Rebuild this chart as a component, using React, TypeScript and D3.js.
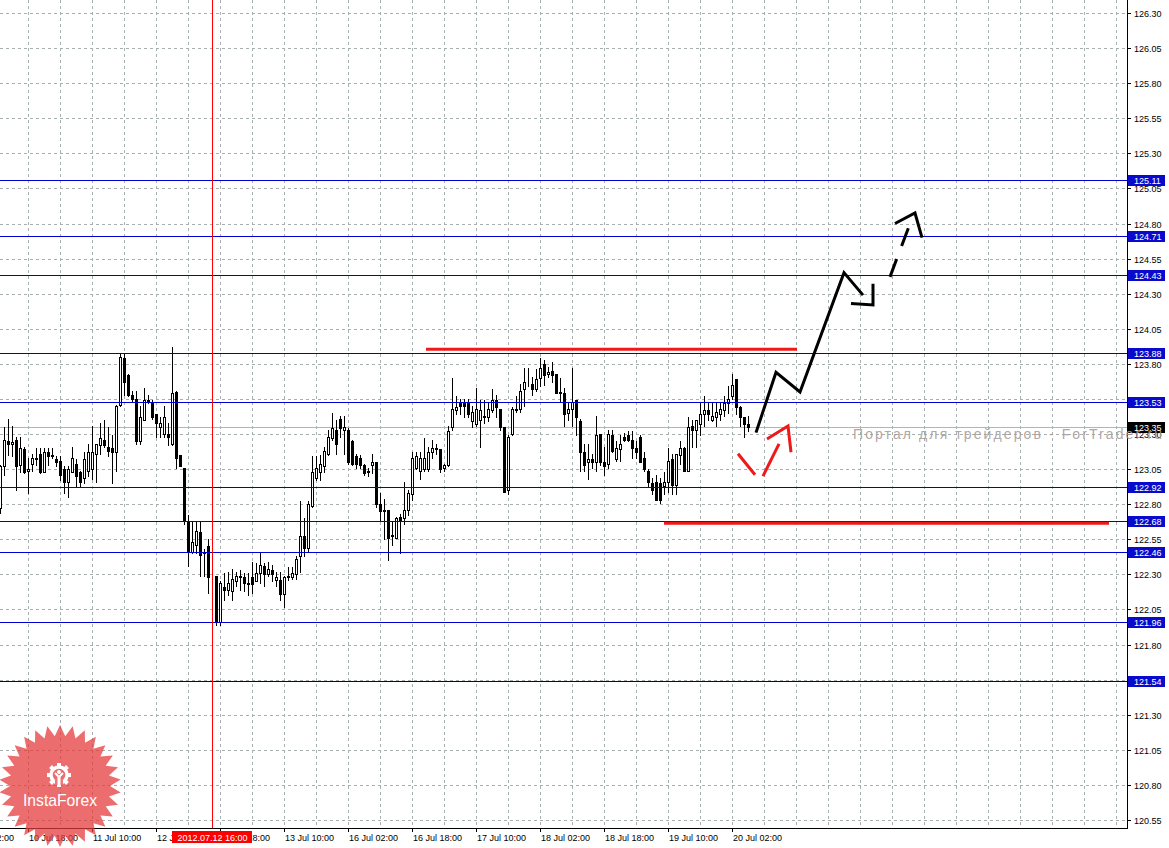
import React, { useLayoutEffect, useRef, useState } from 'react';
import * as d3 from 'd3';

// ---- candle data (H1 bars, bar 0 = 10 Jul 11:00) ----
const opens = [
  122.77,123.07,123.25,123.23,123.26,123.08,123.19,123.04,123.09,123.13,
  123.16,123.03,123.17,123.14,123.12,123.11,123.05,122.96,123.03,123.09,
  123.03,122.99,123.04,123.05,123.16,123.22,123.26,123.21,123.20,123.17,
  123.51,123.84,123.72,123.58,123.55,123.25,123.40,123.54,123.53,123.44,
  123.35,123.30,123.30,123.23,123.60,123.15,123.06,122.67,122.46,122.51,
  122.60,122.45,122.50,122.30,122.29,121.96,122.21,122.19,122.18,122.25,
  122.29,122.28,122.24,122.28,122.25,122.31,122.36,122.30,122.33,122.26,
  122.26,122.16,122.29,122.28,122.30,122.43,122.57,122.49,122.79,122.99,
  123.03,123.07,123.16,123.27,123.33,123.41,123.33,123.33,123.25,123.14,
  123.13,123.08,123.04,123.08,123.10,122.80,122.75,122.76,122.58,122.56,
  122.71,122.70,122.76,122.87,123.06,123.04,123.05,123.05,123.17,123.19,
  123.19,123.06,123.08,123.35,123.47,123.52,123.52,123.52,123.39,123.37,
  123.40,123.42,123.42,123.47,123.54,123.48,123.35,122.90,123.30,123.47,
  123.48,123.62,123.65,123.66,123.62,123.70,123.80,123.73,123.75,123.73,
  123.60,123.59,123.45,123.48,123.54,123.39,123.17,123.10,123.12,123.10,
  123.30,123.10,123.09,123.29,123.12,123.19,123.28,123.29,123.26,123.20,
  123.28,123.13,123.04,122.95,122.96,122.95,122.93,122.96,123.12,122.94,
  123.15,123.20,123.04,123.36,123.33,123.37,123.44,123.47,123.40,123.42,
  123.44,123.47,123.52,123.57,123.69,123.49,123.42,123.37,
];
const highs = [
  123.08,123.35,123.41,123.36,123.28,123.28,123.21,123.13,123.16,123.20,
  123.20,123.20,123.20,123.20,123.14,123.14,123.07,123.07,123.21,123.12,
  123.04,123.17,123.23,123.36,123.23,123.38,123.40,123.35,123.29,123.51,
  123.88,123.87,123.73,123.61,123.61,123.50,123.63,123.58,123.54,123.44,
  123.42,123.50,123.38,123.92,123.61,123.15,123.06,122.72,122.67,122.67,
  122.67,122.48,122.55,122.30,122.29,122.25,122.31,122.32,122.34,122.32,
  122.33,122.31,122.31,122.39,122.38,122.46,122.38,122.39,122.37,122.32,
  122.32,122.29,122.35,122.35,122.43,122.82,122.70,122.82,123.14,123.14,
  123.15,123.21,123.33,123.45,123.40,123.43,123.43,123.34,123.26,123.16,
  123.15,123.09,123.06,123.16,123.10,122.88,122.84,122.76,122.67,122.71,
  122.73,122.96,122.90,123.17,123.17,123.17,123.27,123.21,123.26,123.23,
  123.19,123.09,123.36,123.70,123.57,123.55,123.55,123.55,123.50,123.63,
  123.54,123.54,123.53,123.62,123.58,123.48,123.35,123.29,123.49,123.57,
  123.66,123.77,123.77,123.71,123.76,123.84,123.83,123.78,123.81,123.73,
  123.70,123.63,123.53,123.77,123.54,123.41,123.23,123.23,123.16,123.43,
  123.30,123.21,123.33,123.33,123.25,123.29,123.31,123.32,123.32,123.25,
  123.29,123.17,123.05,122.99,123.01,122.99,123.03,123.20,123.16,123.16,
  123.25,123.21,123.42,123.40,123.40,123.53,123.57,123.53,123.52,123.53,
  123.52,123.57,123.64,123.73,123.69,123.50,123.42,123.43,
];
const lows = [
  122.74,123.01,123.15,123.14,122.90,123.03,123.02,122.88,123.04,123.08,
  123.02,123.03,123.08,123.13,123.07,122.97,122.88,122.85,123.03,122.93,
  122.93,122.95,123.00,122.98,122.96,123.16,123.21,123.14,122.95,123.04,
  123.50,123.58,123.57,123.53,123.23,123.23,123.40,123.52,123.41,123.28,
  123.28,123.28,123.22,123.22,123.06,123.07,122.66,122.36,122.45,122.45,
  122.29,122.29,122.17,122.29,121.94,121.94,122.12,122.15,122.12,122.22,
  122.19,122.18,122.15,122.17,122.25,122.24,122.22,122.29,122.25,122.22,
  122.12,122.07,122.26,122.27,122.27,122.32,122.43,122.47,122.78,122.97,
  122.97,123.03,123.15,123.26,123.16,123.28,123.16,123.09,123.08,123.06,
  123.06,123.01,123.00,123.02,122.78,122.68,122.55,122.40,122.51,122.56,
  122.45,122.66,122.72,122.83,123.05,122.98,123.04,123.04,123.13,123.16,
  123.03,123.04,123.07,123.33,123.44,123.44,123.42,123.42,123.35,123.36,
  123.21,123.38,123.39,123.46,123.42,123.33,122.89,122.87,123.29,123.46,
  123.46,123.50,123.64,123.58,123.61,123.64,123.65,123.71,123.67,123.59,
  123.53,123.36,123.40,123.36,123.29,123.04,123.04,122.98,123.06,123.04,
  123.08,123.01,123.06,123.17,123.11,123.11,123.25,123.25,123.13,123.13,
  123.10,123.04,122.93,122.87,122.83,122.81,122.87,122.89,122.87,122.87,
  123.09,123.04,123.04,123.21,123.21,123.29,123.36,123.40,123.39,123.36,
  123.40,123.43,123.45,123.55,123.44,123.36,123.28,123.32,
];
const closes = [
  123.07,123.26,123.23,123.24,123.07,123.20,123.03,123.05,123.13,123.12,
  123.03,123.17,123.14,123.15,123.10,123.01,122.96,123.05,123.13,123.00,
  122.96,123.12,123.17,123.17,123.23,123.27,123.22,123.18,123.17,123.50,
  123.85,123.67,123.58,123.55,123.25,123.42,123.54,123.53,123.42,123.38,
  123.38,123.42,123.28,123.59,123.13,123.07,122.68,122.46,122.53,122.61,
  122.44,122.46,122.28,122.30,121.96,122.24,122.19,122.24,122.27,122.29,
  122.28,122.24,122.23,122.23,122.31,122.37,122.30,122.34,122.30,122.28,
  122.16,122.28,122.28,122.31,122.41,122.57,122.49,122.80,123.03,123.06,
  123.09,123.18,123.28,123.34,123.23,123.34,123.35,123.10,123.09,123.09,
  123.08,123.02,123.03,123.10,122.80,122.75,122.76,122.56,122.57,122.70,
  122.68,122.76,122.88,123.13,123.14,123.13,123.13,123.17,123.20,123.20,
  123.05,123.08,123.32,123.48,123.49,123.50,123.50,123.44,123.46,123.48,
  123.47,123.43,123.48,123.54,123.49,123.35,122.89,123.28,123.48,123.48,
  123.61,123.67,123.65,123.62,123.69,123.77,123.72,123.74,123.72,123.59,
  123.59,123.44,123.48,123.53,123.42,123.17,123.08,123.12,123.10,123.29,
  123.10,123.07,123.30,123.18,123.20,123.23,123.26,123.26,123.20,123.17,
  123.10,123.05,122.96,122.90,122.83,122.83,122.96,123.11,122.94,123.16,
  123.20,123.04,123.35,123.33,123.40,123.44,123.47,123.44,123.43,123.46,
  123.48,123.52,123.55,123.65,123.49,123.42,123.37,123.35,
];

// ---- axis ticks ----
const priceTicks = ['126.30','126.05','125.80','125.55','125.30','125.05','124.80','124.55','124.30','124.05','123.80','123.55','123.30','123.05','122.80','122.55','122.30','122.05','121.80','121.55','121.30','121.05','120.80','120.55'];
const timeTickBars = [-9, 7, 23, 39, 55, 71, 87, 103, 119, 135, 151, 167, 183];
const timeTickLabels = ['10 Jul 02:00','10 Jul 18:00','11 Jul 10:00','12 Jul 02:00','12 Jul 18:00','13 Jul 10:00','16 Jul 02:00','16 Jul 18:00','17 Jul 10:00','18 Jul 02:00','18 Jul 18:00','19 Jul 10:00','20 Jul 02:00'];
const gridBarStart = -1;
const gridBarStep = 8;

// ---- horizontal levels ----
const levelPrices = [125.11, 124.71, 124.43, 123.88, 123.53, 122.92, 122.68, 122.46, 121.96, 121.54];
const levelIsDark = [false, false, false, false, false, false, false, false, false, true];
const bidPrice = 123.35;
const markerBar = 53;
const markerLabel = '2012.07.12 16:00';

// ---- drawn objects (bar index, price) ----
const resistanceSeg: [number, number][] = [[106.5, 123.905], [199.25, 123.905]];
const supportSeg: [number, number][] = [[166, 122.665], [277.25, 122.665]];
const mainPath: [number, number][] = [[189, 123.31], [194, 123.74], [200, 123.60], [211, 124.45], [215.75, 124.29]];
const mainHead: [number, number][] = [[212.75, 124.23], [218.25, 124.22], [218.25, 124.37]];
const dashedPath: [number, number][] = [[222.5, 124.42], [227.25, 124.78]];
const dashedHead: [number, number][] = [[223.75, 124.80], [228.75, 124.875], [230.5, 124.70]];
const altPath1: [number, number][] = [[184.5, 123.16], [188.75, 123.01]];
const altPath2: [number, number][] = [[190.75, 123.00], [194.75, 123.23]];
const altHead: [number, number][] = [[191.75, 123.265], [197, 123.357], [197.75, 123.17]];

const watermark = 'Портал для трейдеров - ForTrader.ru';
const logoText = 'InstaForex';

const FONT = 'Liberation Sans, Arial, sans-serif';

export default function App() {
  const W = 1169, H = 848;
  const plotR = 1127, plotB = 828;
  const x = d3.scaleLinear().domain([0, 187]).range([0, 748]);
  const y = d3.scaleLinear().domain([120.55, 126.3]).range([820, 13]);
  const py = (v: number) => Math.round(y(v));
  const line = d3.line<[number, number]>().x(d => x(d[0])).y(d => y(d[1]));

  const wmRef = useRef<SVGTextElement>(null);
  const [wmSpacing, setWmSpacing] = useState(0);
  const wmTarget = 309;
  useLayoutEffect(() => {
    const el = wmRef.current;
    if (!el || wmSpacing !== 0) return;
    const w = el.getComputedTextLength();
    const n = watermark.length;
    if (w > 0) setWmSpacing((wmTarget - w) / (n - 1) || 0.0001);
  }, [wmSpacing]);

  const gridXs: number[] = [];
  for (let b = gridBarStart; x(b) <= plotR; b += gridBarStep) gridXs.push(Math.round(x(b)) + 0.5);

  const candles = opens.map((o, i) => {
    const cx = Math.round(x(i));
    const yo = py(o), yc = py(closes[i]), yh = py(highs[i]), yl = py(lows[i]);
    const bull = closes[i] >= o;
    return (
      <g key={i}>
        <line x1={cx + 0.5} x2={cx + 0.5} y1={yh} y2={yl + 1} stroke="#000" strokeWidth={1} />
        {bull ? (
          <rect x={cx - 0.5} y={yc + 0.5} width={2} height={Math.max(0, yo - yc)} fill="#fff" stroke="#000" strokeWidth={1} />
        ) : (
          <rect x={cx - 1} y={yo} width={3} height={Math.max(1, yc - yo + 1)} fill="#000" />
        )}
      </g>
    );
  });

  const N = 30, scx = 60, scy = 786, R = 61, r = 50;
  const starPts = d3.range(2 * N).map(j => {
    const a = (j * Math.PI) / N - Math.PI / 2;
    const rad = j % 2 === 0 ? R : r;
    return [scx + rad * Math.cos(a), scy + rad * Math.sin(a)] as [number, number];
  });
  const starPath = d3.line()(starPts) + 'Z';

  const gx = 59, gy = 775;
  const teeth = d3.range(8).map(j => j * 45);

  return (
    <svg width={W} height={H} style={{ position: 'absolute', left: 0, top: 0, background: '#fff' }} fontFamily={FONT}>
      <rect x={0} y={0} width={W} height={H} fill="#fff" />
      <defs>
        <clipPath id="plot"><rect x={0} y={0} width={plotR} height={plotB} /></clipPath>
      </defs>
      <g clipPath="url(#plot)">
        {/* grid */}
        {priceTicks.map(t => (
          <line key={'h' + t} x1={0} x2={plotR} y1={py(+t) + 0.5} y2={py(+t) + 0.5} stroke="#a7afaf" strokeDasharray="3,3" />
        ))}
        {gridXs.map(gxv => (
          <line key={'v' + gxv} x1={gxv} x2={gxv} y1={0} y2={plotB} stroke="#a7afaf" strokeDasharray="3,3" />
        ))}
        {/* bid line */}
        <line x1={0} x2={plotR} y1={py(bidPrice) + 0.5} y2={py(bidPrice) + 0.5} stroke="#b4b4b4" />
        {/* candles */}
        {candles}
        {/* horizontal levels */}
        {levelPrices.map((p, i) => (
          <line key={'l' + p} x1={0} x2={plotR} y1={py(p) + 0.5} y2={py(p) + 0.5} stroke={levelIsDark[i] ? '#00007a' : '#0000d0'} />
        ))}
        {/* red vertical */}
        <line x1={Math.round(x(markerBar)) + 0.5} x2={Math.round(x(markerBar)) + 0.5} y1={0} y2={plotB} stroke="#ff0000" />
        {/* red segments */}
        <path d={line(resistanceSeg) || ''} stroke="#ee1a1a" strokeWidth={3} fill="none" />
        <path d={line(supportSeg) || ''} stroke="#ee1a1a" strokeWidth={3} fill="none" />
        {/* forecast arrows */}
        <path d={line(mainPath) || ''} stroke="#000" strokeWidth={3} fill="none" strokeLinejoin="miter" />
        <path d={line(mainHead) || ''} stroke="#000" strokeWidth={3} fill="none" strokeLinejoin="miter" />
        <path d={line(dashedPath) || ''} stroke="#000" strokeWidth={3} fill="none" strokeDasharray="19,14" />
        <path d={line(dashedHead) || ''} stroke="#000" strokeWidth={3} fill="none" strokeLinejoin="miter" />
        <path d={line(altPath1) || ''} stroke="#ee1a1a" strokeWidth={3} fill="none" />
        <path d={line(altPath2) || ''} stroke="#ee1a1a" strokeWidth={3} fill="none" />
        <path d={line(altHead) || ''} stroke="#ee1a1a" strokeWidth={3} fill="none" strokeLinejoin="miter" />
      </g>

      {/* axes */}
      <line x1={plotR + 0.5} x2={plotR + 0.5} y1={0} y2={plotB + 1} stroke="#000" />
      <line x1={0} x2={plotR + 1} y1={plotB + 0.5} y2={plotB + 0.5} stroke="#000" />

      {/* price tick labels */}
      {priceTicks.map(t => (
        <g key={'pt' + t}>
          <line x1={plotR + 1} x2={plotR + 4} y1={py(+t) + 0.5} y2={py(+t) + 0.5} stroke="#000" />
          <text x={1134} y={py(+t) + 3.5} fontSize={9} fill="#000">{t}</text>
        </g>
      ))}

      {/* time tick labels */}
      {timeTickBars.map((b, i) => {
        const tx = Math.round(x(b));
        return (
          <g key={'tt' + b}>
            <line x1={tx + 0.5} x2={tx + 0.5} y1={plotB + 1} y2={plotB + 4} stroke="#000" />
            <text x={tx + 1} y={840.5} fontSize={9} fill="#000">{timeTickLabels[i]}</text>
          </g>
        );
      })}

      {/* marker date box */}
      <rect x={Math.round(x(markerBar)) - 40} y={831} width={80} height={12} fill="#ff0000" />
      <text x={Math.round(x(markerBar)) + 0.5} y={840.5} fontSize={9} fill="#fff" textAnchor="middle">{markerLabel}</text>

      {/* level labels */}
      {levelPrices.map(p => (
        <g key={'lb' + p}>
          <rect x={plotR + 1} y={py(p) - 5} width={37} height={11} fill="#0a0acc" />
          <text x={1134} y={py(p) + 3.5} fontSize={9} fill="#fff">{p.toFixed(2)}</text>
        </g>
      ))}
      <rect x={plotR + 1} y={py(bidPrice) - 5} width={37} height={11} fill="#000" />
      <text x={1134} y={py(bidPrice) + 3.5} fontSize={9} fill="#fff">{bidPrice.toFixed(2)}</text>

      {/* watermark (spills over the price axis, as in the source) */}
      <text ref={wmRef} x={853} y={439} fontSize={14} fill="#a89a9a" fillOpacity={0.9}
        style={{ letterSpacing: `${wmSpacing}px` }} fontFamily={FONT}>{watermark}</text>

      {/* InstaForex logo */}
      <g>
        <path d={starPath} fill="#e63a3a" opacity={0.74} />
        <g fill="#fff">
          {teeth.map(a => (
            <rect key={a} x={gx - 2} y={gy - 12} width={4} height={5} transform={`rotate(${a} ${gx} ${gy})`} />
          ))}
        </g>
        <circle cx={gx} cy={gy} r={8} fill="none" stroke="#fff" strokeWidth={3.5} />
        <rect x={gx - 4} y={gy + 4} width={8} height={6} fill="#ee7777" />
        <circle cx={gx} cy={gy - 3} r={2} fill="#fff" />
        <path d={`M${gx - 4},${gy - 2} L${gx},${gy + 2} L${gx + 4},${gy - 2}`} stroke="#fff" strokeWidth={2} fill="none" />
        <rect x={gx - 1.5} y={gy + 1} width={3} height={10} fill="#fff" />
        <text x={60} y={806} fontSize={17} fill="#fff" textAnchor="middle" textLength={74} lengthAdjust="spacingAndGlyphs">{logoText}</text>
      </g>
    </svg>
  );
}
